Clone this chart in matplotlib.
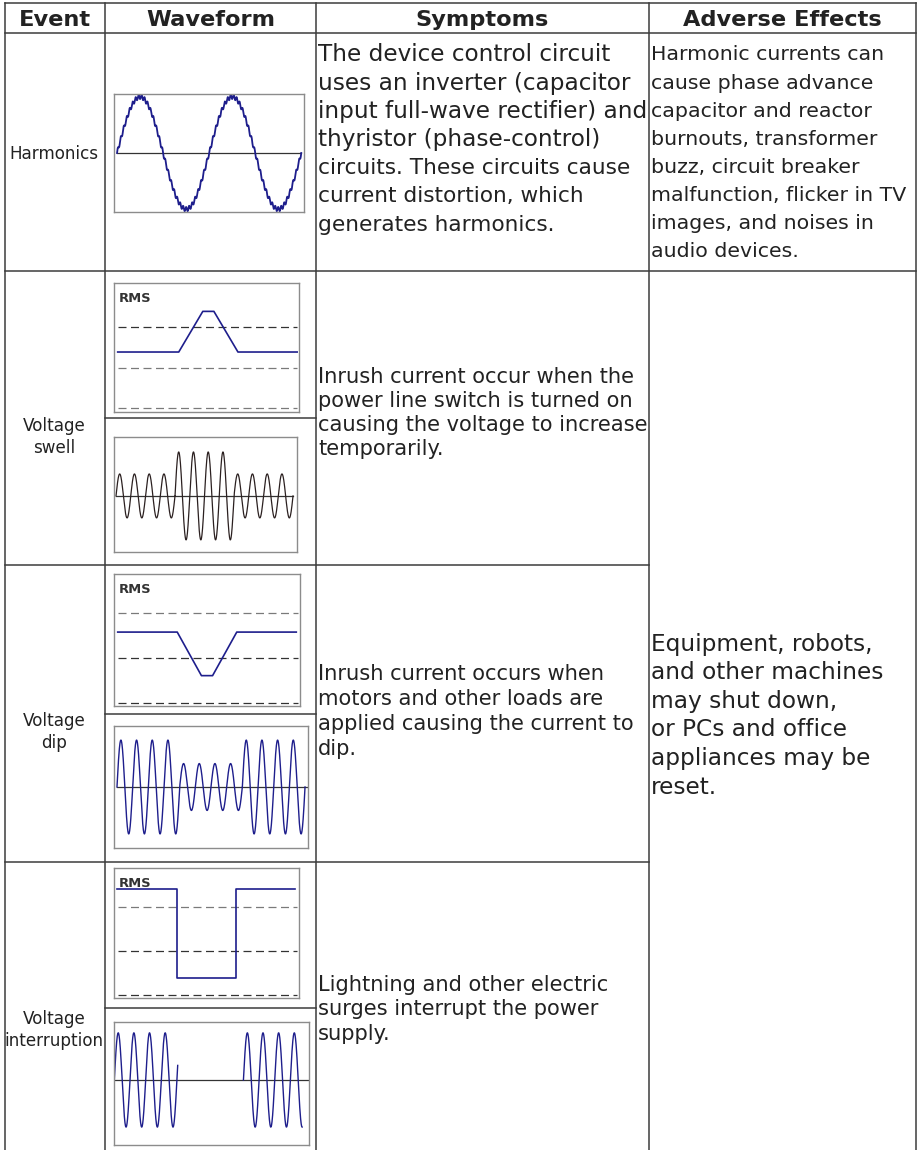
import numpy as np
import matplotlib.pyplot as plt

plt.rcParams['font.family'] = 'DejaVu Sans'

# ---- table text ----
headers = ['Event', 'Waveform', 'Symptoms', 'Adverse Effects']
events = [['Harmonics'], ['Voltage', 'swell'], ['Voltage', 'dip'], ['Voltage', 'interruption']]

harm_symptoms_big = ['The device control circuit',
                     'uses an inverter (capacitor',
                     'input full-wave rectifier) and',
                     'thyristor (phase-control)']
harm_symptoms_small = ['circuits. These circuits cause',
                       'current distortion, which',
                       'generates harmonics.']
harm_effects = ['Harmonic currents can', 'cause phase advance', 'capacitor and reactor',
                'burnouts, transformer', 'buzz, circuit breaker', 'malfunction, flicker in TV',
                'images, and noises in', 'audio devices.']
swell_symptoms = ['Inrush current occur when the', 'power line switch is turned on',
                  'causing the voltage to increase', 'temporarily.']
dip_symptoms = ['Inrush current occurs when', 'motors and other loads are',
                'applied causing the current to', 'dip.']
int_symptoms = ['Lightning and other electric', 'surges interrupt the power', 'supply.']
common_effects = ['Equipment, robots,', 'and other machines', 'may shut down,',
                  'or PCs and office', 'appliances may be', 'reset.']

# ---- waveform data ----
harm_cycles = 2
harm_orders = [1, 31]
harm_amps = [1.0, 0.04]

# RMS traces (x in % of box width, y in % of box height)
swell_rms_x = [2, 35, 48, 54, 67, 99]
swell_rms_y = [46.5, 46.5, 78, 78, 46.5, 46.5]
swell_refs = [66, 34, 3]
dip_rms_x = [2, 34, 47, 53, 66, 98]
dip_rms_y = [56, 56, 23, 23, 56, 56]
dip_refs = [70.5, 36.5, 2.5]
int_rms_x = [1.6, 34, 34, 66, 66, 98]
int_rms_y = [84, 84, 15.5, 15.5, 84, 84]
int_refs = [70, 36, 2.3]

# sine bursts: (start cycle, end cycle, amplitude, phase origin)
swell_segments = [(0, 4, 1.0, 0), (4, 8, 2.0, 0), (8, 12, 1.0, 0)]
dip_segments = [(0, 4, 1.0, 0), (4, 8, 0.5, 0), (8, 12, 1.0, 0)]
int_segments = [(0, 4.05, 1.0, 0), (8.25, 12.0, 1.0, 8.25)]

W, H = 920, 1150
TEXT = '#222222'
GRID = '#3c3c3c'
BLUE = '#1e1e8c'
DARK = '#333333'
GREY = '#7a7a7a'

fig = plt.figure(figsize=(W / 100, H / 100), dpi=100)
ax = fig.add_axes([0, 0, 1, 1])
ax.set_xlim(0, W)
ax.set_ylim(H, 0)
ax.axis('off')


def pt(px):
    return px * 0.72


def write_lines(x, y0, step, lines, px, weight='normal', ha='left'):
    for i, s in enumerate(lines):
        ax.text(x, y0 + i * step + 0.365 * px, s, fontsize=pt(px), ha=ha,
                va='baseline', color=TEXT, fontweight=weight)


# ---- grid ----
cols = [5, 105, 316, 649, 916]
for x in cols:
    ax.plot([x, x], [3, H], color=GRID, lw=1.1)
ax.plot([5, 916], [3, 3], color=GRID, lw=1.1)
ax.plot([5, 916], [33, 33], color=GRID, lw=1.1)
ax.plot([5, 916], [271, 271], color=GRID, lw=1.1)
for y in [565, 862]:
    ax.plot([5, 649], [y, y], color=GRID, lw=1.1)
for y in [418, 714, 1008]:
    ax.plot([105, 316], [y, y], color=GRID, lw=1.1)

# ---- headers ----
for i, h in enumerate(headers):
    ax.text((cols[i] + cols[i + 1]) / 2, 18 + 0.365 * 22.5, h, fontsize=pt(22.5),
            fontweight='bold', ha='center', va='baseline', color=TEXT)

# ---- event column ----
ev_pos = [(153, 0), (425, 22), (720, 22), (1018, 22)]
for lines, (y0, step) in zip(events, ev_pos):
    write_lines(54, y0, step, lines, 16.8, ha='center')

# ---- symptoms / effects ----
write_lines(318, 53, 28.3, harm_symptoms_big, 23.1)
write_lines(318, 53 + 4 * 28.3, 28.3, harm_symptoms_small, 21.6)
write_lines(651, 53, 28.1, harm_effects, 20.5)
write_lines(318, 375, 24, swell_symptoms, 21)
write_lines(318, 672, 25, dip_symptoms, 21)
write_lines(318, 983, 24.5, int_symptoms, 21)
write_lines(651, 642, 28.6, common_effects, 23.3)


# ---- waveform panels ----
def panel(box, xlim, ylim):
    x0, y0, x1, y1 = box
    a = fig.add_axes([x0 / W, 1 - y1 / H, (x1 - x0) / W, (y1 - y0) / H])
    a.set_xlim(*xlim)
    a.set_ylim(*ylim)
    a.set_xticks([])
    a.set_yticks([])
    for s in a.spines.values():
        s.set_color('#8c8c8c')
        s.set_linewidth(1.0)
    return a


def rms_panel(box, xs, ys, refs, ref_colors):
    a = panel(box, (0, 100), (0, 100))
    for r, c in zip(refs, ref_colors):
        a.plot([2, 99], [r, r], color=c, lw=0.9, linestyle=(0, (6.4, 3.6)))
    a.plot(xs, ys, color=BLUE, lw=1.2)
    a.text(2.5, 93, 'RMS', fontsize=pt(13), fontweight='bold', color=DARK,
           ha='left', va='top')
    return a


def burst(segments, n=500):
    tt, yy = [], []
    prev_end = None
    for t0, t1, amp, ph in segments:
        if prev_end is not None and abs(t0 - prev_end) > 1e-9:
            tt.append(np.nan)
            yy.append(np.nan)
        t = np.linspace(t0, t1, n)
        tt.extend(t)
        yy.extend(amp * np.sin(2 * np.pi * (t - ph)))
        prev_end = t1
    return np.array(tt), np.array(yy)


# harmonics
a = panel((114, 94, 304, 212), (-0.033, 2.03), (-1.05, 1.05))
t = np.linspace(0, harm_cycles, 3000)
y = sum(am * np.sin(2 * np.pi * k * t) for k, am in zip(harm_orders, harm_amps))
a.plot([0, harm_cycles], [0, 0], color=DARK, lw=0.9)
a.plot(t, y, color=BLUE, lw=1.3)

# swell
rms_panel((114, 283, 299, 412), swell_rms_x, swell_rms_y, swell_refs, [DARK, GREY, GREY])
a = panel((114, 437, 297, 552), (-0.136, 12.27), (-2.55, 2.68))
a.plot([0, 12], [0, 0], color=DARK, lw=0.9)
tt, yy = burst(swell_segments)
a.plot(tt, yy, color='#2b2020', lw=0.9)

# dip
rms_panel((114, 574, 300, 706), dip_rms_x, dip_rms_y, dip_refs, [GREY, DARK, DARK])
a = panel((114, 726, 308, 848), (-0.19, 12.19), (-1.30, 1.30))
a.plot([0, 12.1], [0, 0], color=DARK, lw=0.9)
tt, yy = burst(dip_segments)
a.plot(tt, yy, color=BLUE, lw=1.0)

# interruption
rms_panel((114, 868, 299, 998), int_rms_x, int_rms_y, int_refs, [GREY, DARK, DARK])
a = panel((114, 1022, 309, 1145), (-0.02, 12.44), (-1.38, 1.23))
a.plot([-0.02, 12.44], [0, 0], color=DARK, lw=0.9)
tt, yy = burst(int_segments)
a.plot(tt, yy, color=BLUE, lw=1.0)

fig.savefig('out.png', dpi=100)
